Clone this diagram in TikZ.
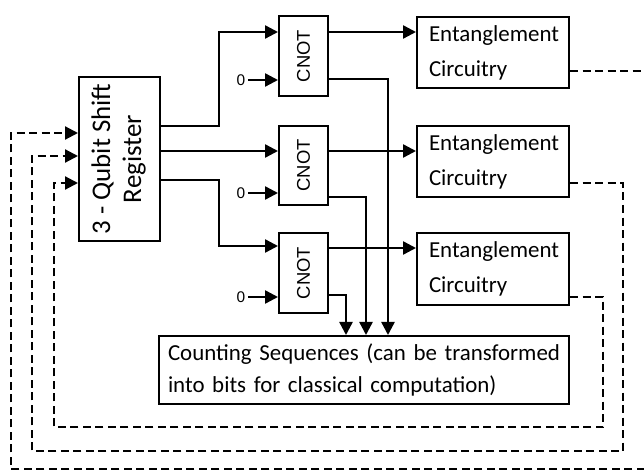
\documentclass[tikz,border=0pt]{standalone}
\usepackage{fontspec}
\setmainfont{Carlito}
\newfontfamily\gatefont{Liberation Sans}
\usetikzlibrary{arrows.meta}
\begin{document}
\begin{tikzpicture}[x=1bp,y=-1bp,
  box/.style={draw,line width=2bp,rectangle,inner sep=0pt,
    font=\fontsize{23}{33}\selectfont},
  wire/.style={line width=2.4bp,-{Triangle[length=13bp,width=13bp]}},
  fb/.style={line width=2.2bp,dash pattern=on 8bp off 4.5bp},
  fbarr/.style={fb,-{Triangle[length=13bp,width=13bp]}},
  zero/.style={inner sep=0pt,font=\gatefont\fontsize{15.5}{15.5}\selectfont}]
\useasboundingbox (0,0) rectangle (644,472);

% shift register
\node[box,minimum width=81bp,minimum height=164bp,font=\fontsize{27}{31}\selectfont] (reg) at (119.5,159)
  {\rotatebox{90}{\begin{tabular}{@{}c@{}}3 - Qubit Shift\\Register\end{tabular}}};

% CNOT gates
\node[box,minimum width=49bp,minimum height=80bp,font=\gatefont\fontsize{18.5}{20}\selectfont] (c1) at (303.5,56) {\rotatebox{90}{CNOT}};
\node[box,minimum width=49bp,minimum height=79bp,font=\gatefont\fontsize{18.5}{20}\selectfont] (c2) at (303.5,165.5) {\rotatebox{90}{CNOT}};
\node[box,minimum width=49bp,minimum height=80bp,font=\gatefont\fontsize{18.5}{20}\selectfont] (c3) at (303.5,273) {\rotatebox{90}{CNOT}};

% entanglement blocks
\node[box,text width=128bp,inner xsep=12bp,minimum height=71bp,align=left] (e1) at (493,52.5) {Entanglement\\[2bp]Circuitry};
\node[box,text width=128bp,inner xsep=12bp,minimum height=71bp,align=left] (e2) at (493,161.5) {Entanglement\\[2bp]Circuitry};
\node[box,text width=128bp,inner xsep=12bp,minimum height=72bp,align=left] (e3) at (493,269) {Entanglement\\[2bp]Circuitry};

% output block
\node[box,text width=392bp,inner xsep=9bp,minimum height=68bp,align=left] (cnt) at (364,370)
  {Counting Sequences (can be transformed\\into bits for classical computation)};

% ancilla inputs
\node[zero] (z1) at (241,80) {0};
\node[zero] (z2) at (241,193) {0};
\node[zero] (z3) at (241,297) {0};
\draw[wire] (z1.east) ++(3,0) -- (c1.west |- z1.east);
\draw[wire] (z2.east) ++(3,0) -- (c2.west |- z2.east);
\draw[wire] (z3.east) ++(3,0) -- (c3.west |- z3.east);

% register to gates
\draw[wire] (reg.east |- 0,126) -| (219,32) -- (c1.west |- 0,32);
\draw[wire] (reg.east |- 0,151) -- (c2.west |- 0,151);
\draw[wire] (reg.east |- 0,180) -| (219,246) -- (c3.west |- 0,246);

% gates to entanglement blocks
\draw[wire] (c1.east |- 0,32) -- (e1.west |- 0,32);
\draw[wire] (c2.east |- 0,151) -- (e2.west |- 0,151);
\draw[wire] (c3.east |- 0,248) -- (e3.west |- 0,248);

% gates to counting block
\draw[wire] (c1.east |- 0,79) -| (cnt.north -| 388,0);
\draw[wire] (c2.east |- 0,197) -| (cnt.north -| 366,0);
\draw[wire] (c3.east |- 0,295) -| (cnt.north -| 346,0);

% feedback loops
\coordinate (farR) at (652,71);
\draw[fbarr] (e1.east |- 0,71) -- (farR) |- (11,469) |- (reg.west |- 0,133);
\draw[fbarr] (e2.east |- 0,183) -| (623,451) -| (32,156) -- (reg.west |- 0,156);
\draw[fbarr] (e3.east |- 0,297) -| (603,427) -| (54,183) -- (reg.west |- 0,183);
\end{tikzpicture}
\end{document}
